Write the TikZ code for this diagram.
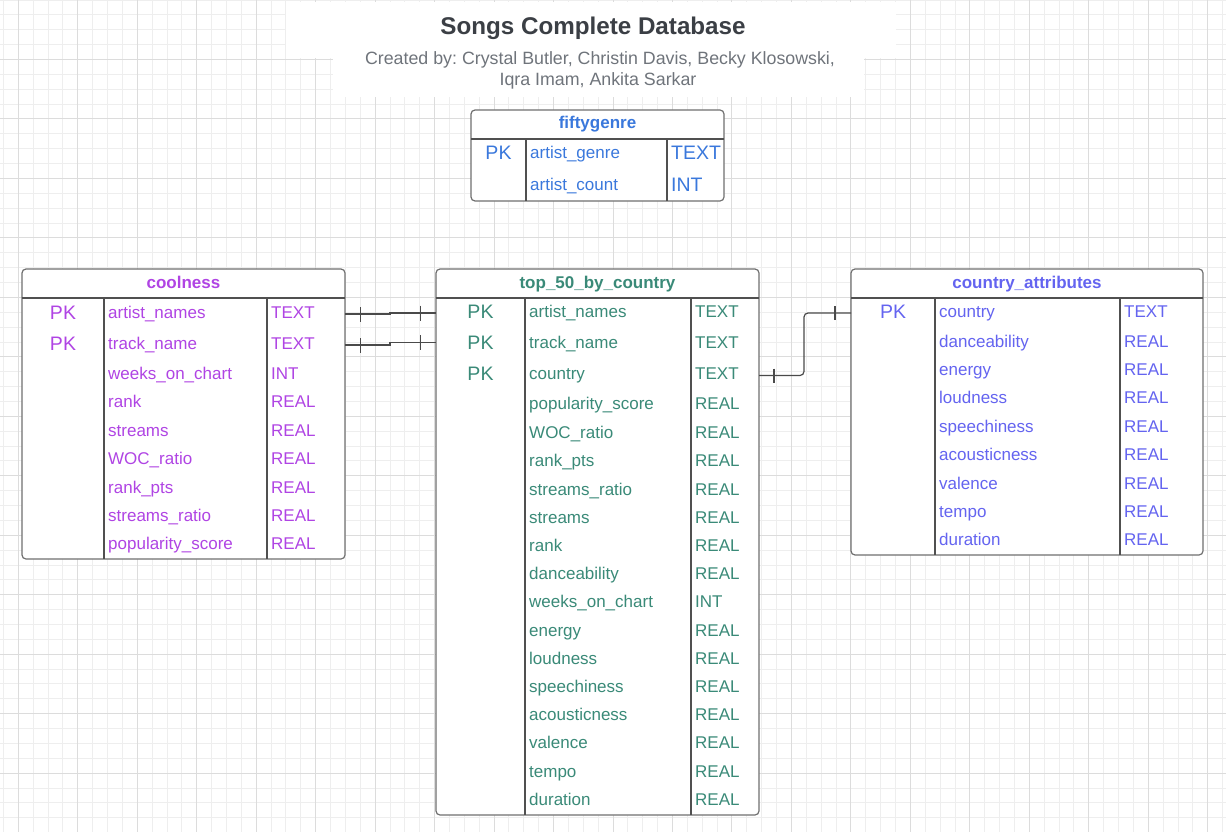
\documentclass[tikz,border=0pt]{standalone}
\usepackage{fontspec}
\setmainfont{Liberation Sans}
\frenchspacing
\definecolor{gridminor}{HTML}{EEEEEE}
\definecolor{gridmajor}{HTML}{DCDCDC}
\definecolor{tblborder}{HTML}{707070}
\definecolor{sepcol}{HTML}{505050}
\definecolor{relcol}{HTML}{4A4A4A}
\definecolor{titlec}{HTML}{3B3F45}
\definecolor{subc}{HTML}{6F747B}
\definecolor{coolc}{HTML}{B044E4}
\definecolor{topc}{HTML}{3A8A78}
\definecolor{ctryc}{HTML}{6464F0}
\definecolor{fiftyc}{HTML}{3A78DC}
\tikzset{
  minorgrid/.style={draw=gridminor, line width=0.9pt},
  majorgrid/.style={draw=gridmajor, line width=1pt},
  tbl/.style={draw=tblborder, fill=white, line width=1.2pt, rounded corners=4pt, inner sep=0pt, outer sep=0pt, anchor=north west},
  sepline/.style={draw=sepcol, line width=1.1pt},
  hdr/.style={font=\fontsize{17}{20}\selectfont\bfseries, anchor=base, inner sep=0pt},
  fld/.style={font=\fontsize{17}{20}\selectfont, anchor=base west, inner sep=0pt},
  pkstyle/.style={font=\fontsize{19.5}{22}\selectfont, anchor=base, inner sep=0pt},
  bigtype/.style={font=\fontsize{19.5}{22}\selectfont, anchor=base west, inner sep=0pt},
  rel/.style={draw=relcol, line width=1.2pt},
  relend/.style={draw=relcol, line width=1.2pt},
}
\begin{document}
\begin{tikzpicture}[x=1pt,y=-1pt]
\useasboundingbox (0,0) rectangle (1226,832);
\fill[white] (0,0) rectangle (1226,832);
% grid
\foreach \k in {0,...,83} {\draw[minorgrid] ({3.43+\k*14.8675},0) -- ++(0,832);}
\foreach \k in {0,...,56} {\draw[minorgrid] (0,{\k*14.8675}) -- ++(1226,0);}
\foreach \k in {0,...,20} {\draw[majorgrid] ({18.3+\k*59.47},0) -- ++(0,832);}
\foreach \k in {0,...,13} {\draw[majorgrid] (0,{\k*59.47}) -- ++(1226,0);}
% title
\fill[white] (286,2) rectangle (896,58);
\fill[white] (333,58) rectangle (864,97);
\node[font=\fontsize{24.2}{28}\selectfont\bfseries, text=titlec, anchor=base, inner sep=0pt] (title) at (593,34.5) {Songs Complete Database};
\node[font=\fontsize{17.8}{21}\selectfont, text=subc, anchor=base, inner sep=0pt] (sub1) at (600,65) {Created by: Crystal Butler, Christin Davis, Becky Klosowski,};
\node[font=\fontsize{17.8}{21}\selectfont, text=subc, anchor=base, inner sep=0pt] (sub2) at (598,86) {Iqra Imam, Ankita Sarkar};

% fiftygenre
\node[tbl, minimum width=253pt, minimum height=91pt] (fifty) at (471,110) {};
\draw[sepline] (471,139) -- (724,139);
\draw[sepline] (526,139) -- (526,201);
\draw[sepline] (667,139) -- (667,201);
\node[hdr, text=fiftyc] (fiftyh) at (597.5,129) {fiftygenre};
\node[pkstyle, text=fiftyc] (fiftypk) at (498.5,160) {PK};
\node[fld, text=fiftyc] (fiftyn1) at (530,159) {artist\_genre};
\node[fld, text=fiftyc] (fiftyn2) at (530,190) {artist\_count};
\node[bigtype, text=fiftyc] (fiftyt1) at (671,160) {TEXT};
\node[bigtype, text=fiftyc] (fiftyt2) at (671,191) {INT};

% coolness
\node[tbl, minimum width=323pt, minimum height=290pt] (cool) at (22,269) {};
\draw[sepline] (22,298) -- (345,298);
\draw[sepline] (104,298) -- (104,559);
\draw[sepline] (267,298) -- (267,559);
\node[hdr, text=coolc] (coolh) at (183.5,288) {coolness};
\node[pkstyle, text=coolc] (coolpk1) at (63,319) {PK};
\node[pkstyle, text=coolc] (coolpk2) at (63,350) {PK};
\foreach \n/\t/\y [count=\i] in {artist\_names/TEXT/312, track\_name/TEXT/343, weeks\_on\_chart/INT/373, rank/REAL/401, streams/REAL/430, WOC\_ratio/REAL/458, rank\_pts/REAL/487, streams\_ratio/REAL/515, popularity\_score/REAL/543} {
  \node[fld, text=coolc] (cooln\i) at (108,\y+6) {\n};
  \node[fld, text=coolc] (coolt\i) at (271,\y+6) {\t};
}

% top_50_by_country
\node[tbl, minimum width=323pt, minimum height=546pt] (top) at (436,269) {};
\draw[sepline] (436,298) -- (759,298);
\draw[sepline] (525,298) -- (525,815);
\draw[sepline] (691,298) -- (691,815);
\node[hdr, text=topc] (toph) at (597.5,288) {top\_50\_by\_country};
\node[pkstyle, text=topc] (toppk1) at (480.5,318) {PK};
\node[pkstyle, text=topc] (toppk2) at (480.5,349) {PK};
\node[pkstyle, text=topc] (toppk3) at (480.5,380) {PK};
\foreach \n/\t/\y [count=\i] in {artist\_names/TEXT/311, track\_name/TEXT/342, country/TEXT/373, popularity\_score/REAL/403, WOC\_ratio/REAL/432, rank\_pts/REAL/460, streams\_ratio/REAL/489, streams/REAL/517, rank/REAL/545, danceability/REAL/573, weeks\_on\_chart/INT/601, energy/REAL/630, loudness/REAL/658, speechiness/REAL/686, acousticness/REAL/714, valence/REAL/742, tempo/REAL/771, duration/REAL/799} {
  \node[fld, text=topc] (topn\i) at (529,\y+6) {\n};
  \node[fld, text=topc] (topt\i) at (695,\y+6) {\t};
}

% country_attributes
\node[tbl, minimum width=352pt, minimum height=286pt] (ctry) at (851,269) {};
\draw[sepline] (851,298) -- (1203,298);
\draw[sepline] (935,298) -- (935,555);
\draw[sepline] (1120,298) -- (1120,555);
\node[hdr, text=ctryc] (ctryh) at (1027,288) {country\_attributes};
\node[pkstyle, text=ctryc] (ctrypk1) at (893,318) {PK};
\foreach \n/\t/\y [count=\i] in {country/TEXT/311, danceability/REAL/341, energy/REAL/369, loudness/REAL/397, speechiness/REAL/426, acousticness/REAL/454, valence/REAL/483, tempo/REAL/511, duration/REAL/539} {
  \node[fld, text=ctryc] (ctryn\i) at (939,\y+6) {\n};
  \node[fld, text=ctryc] (ctryt\i) at (1124,\y+6) {\t};
}

% relationship connectors
\coordinate (r1a) at (cool.east |- 0,314);
\coordinate (r1b) at (top.west |- 0,313);
\coordinate (r2a) at (cool.east |- 0,345);
\coordinate (r2b) at (top.west |- 0,342.5);
\coordinate (r3a) at (top.east |- 0,375.5);
\coordinate (r3b) at (ctry.west |- 0,313);
\draw[rel] (r1a) -- (390,314) -- (390,313) -- (r1b);
\draw[rel] (r2a) -- (390,345) -- (390,342.5) -- (r2b);
\draw[rel, rounded corners=4pt] (r3a) -- (804,375.5) -- (804,313) -- (r3b);
% one-cardinality ticks
\draw[relend] (360.5,307) -- (360.5,322);
\draw[relend] (420.5,305.5) -- (420.5,320.5);
\draw[relend] (360.5,338) -- (360.5,353);
\draw[relend] (420.5,335) -- (420.5,350);
\draw[relend] (774,368.5) -- (774,382.5);
\draw[relend] (835,306) -- (835,320);
\end{tikzpicture}
\end{document}
